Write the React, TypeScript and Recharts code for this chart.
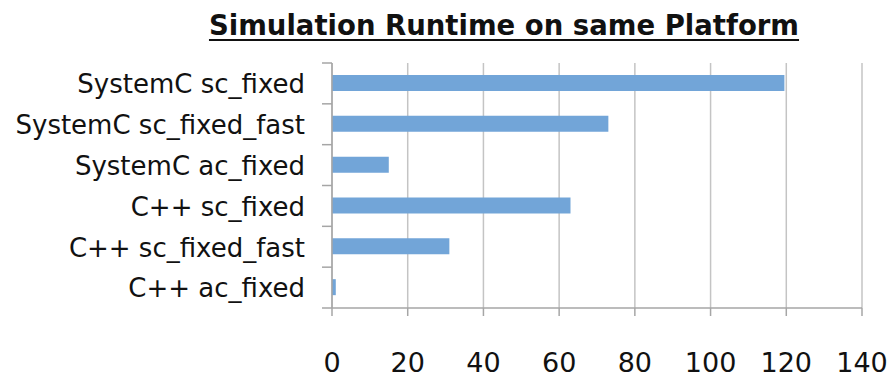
import { BarChart, Bar, XAxis, YAxis, CartesianGrid } from "recharts";

const categories = [
  "SystemC sc_fixed",
  "SystemC sc_fixed_fast",
  "SystemC ac_fixed",
  "C++ sc_fixed",
  "C++ sc_fixed_fast",
  "C++ ac_fixed",
];
const runtimes = [119.5, 73, 15, 63, 31, 1];
const xTicks = [0, 20, 40, 60, 80, 100, 120, 140];

const FONT = "'DejaVu Sans', sans-serif";
const AXIS = "#a6a6a6";
const GRID = "#c4c4c4";

const data = categories.map((name, i) => ({ name, value: runtimes[i] }));

function CategoryTick(props: any) {
  const { x, y, payload, index } = props;
  const half = payload?.offset ?? 20;
  const lx = x + 19;
  return (
    <g>
      <line x1={lx} x2={lx + 10} y1={y - half} y2={y - half} stroke={AXIS} strokeWidth={1.5} />
      {index === categories.length - 1 && (
        <line x1={lx} x2={lx + 10} y1={y + half} y2={y + half} stroke={AXIS} strokeWidth={1.5} />
      )}
      <text x={x + 2} y={y} dy="0.38em" textAnchor="end" fill="#111" fontSize={26} fontFamily={FONT}>
        {payload.value}
      </text>
    </g>
  );
}

export default function App() {
  return (
    <div style={{ position: "absolute", left: 0, top: 0, width: 895, height: 386, background: "#fff" }}>
      <div
        style={{
          position: "absolute",
          left: 190,
          top: 9,
          width: 628,
          textAlign: "center",
          fontFamily: FONT,
          fontWeight: "bold",
          fontSize: 27.5,
          textDecoration: "underline",
          textDecorationThickness: 2,
          textUnderlineOffset: 4,
          color: "#111",
          lineHeight: "32px",
        }}
      >
        Simulation Runtime on same Platform
      </div>
      <BarChart
        width={895}
        height={386}
        data={data}
        layout="vertical"
        margin={{ top: 63, right: 33, bottom: 0, left: 0 }}
      >
        <CartesianGrid horizontal={false} stroke={GRID} strokeWidth={1.5} />
        <XAxis
          type="number"
          domain={[0, 140]}
          ticks={xTicks}
          height={78}
          tickSize={8}
          tickMargin={37}
          axisLine={{ stroke: AXIS, strokeWidth: 1.5 }}
          tickLine={{ stroke: AXIS, strokeWidth: 1.5 }}
          tick={{ fill: "#111", fontSize: 27, fontFamily: FONT }}
        />
        <YAxis
          type="category"
          dataKey="name"
          width={332}
          tickSize={10}
          tickMargin={19}
          tickLine={false}
          axisLine={{ stroke: AXIS, strokeWidth: 1.5 }}
          tick={<CategoryTick />}
          interval={0}
        />
        <Bar dataKey="value" fill="#72a5d8" barSize={16} isAnimationActive={false} />
      </BarChart>
    </div>
  );
}
